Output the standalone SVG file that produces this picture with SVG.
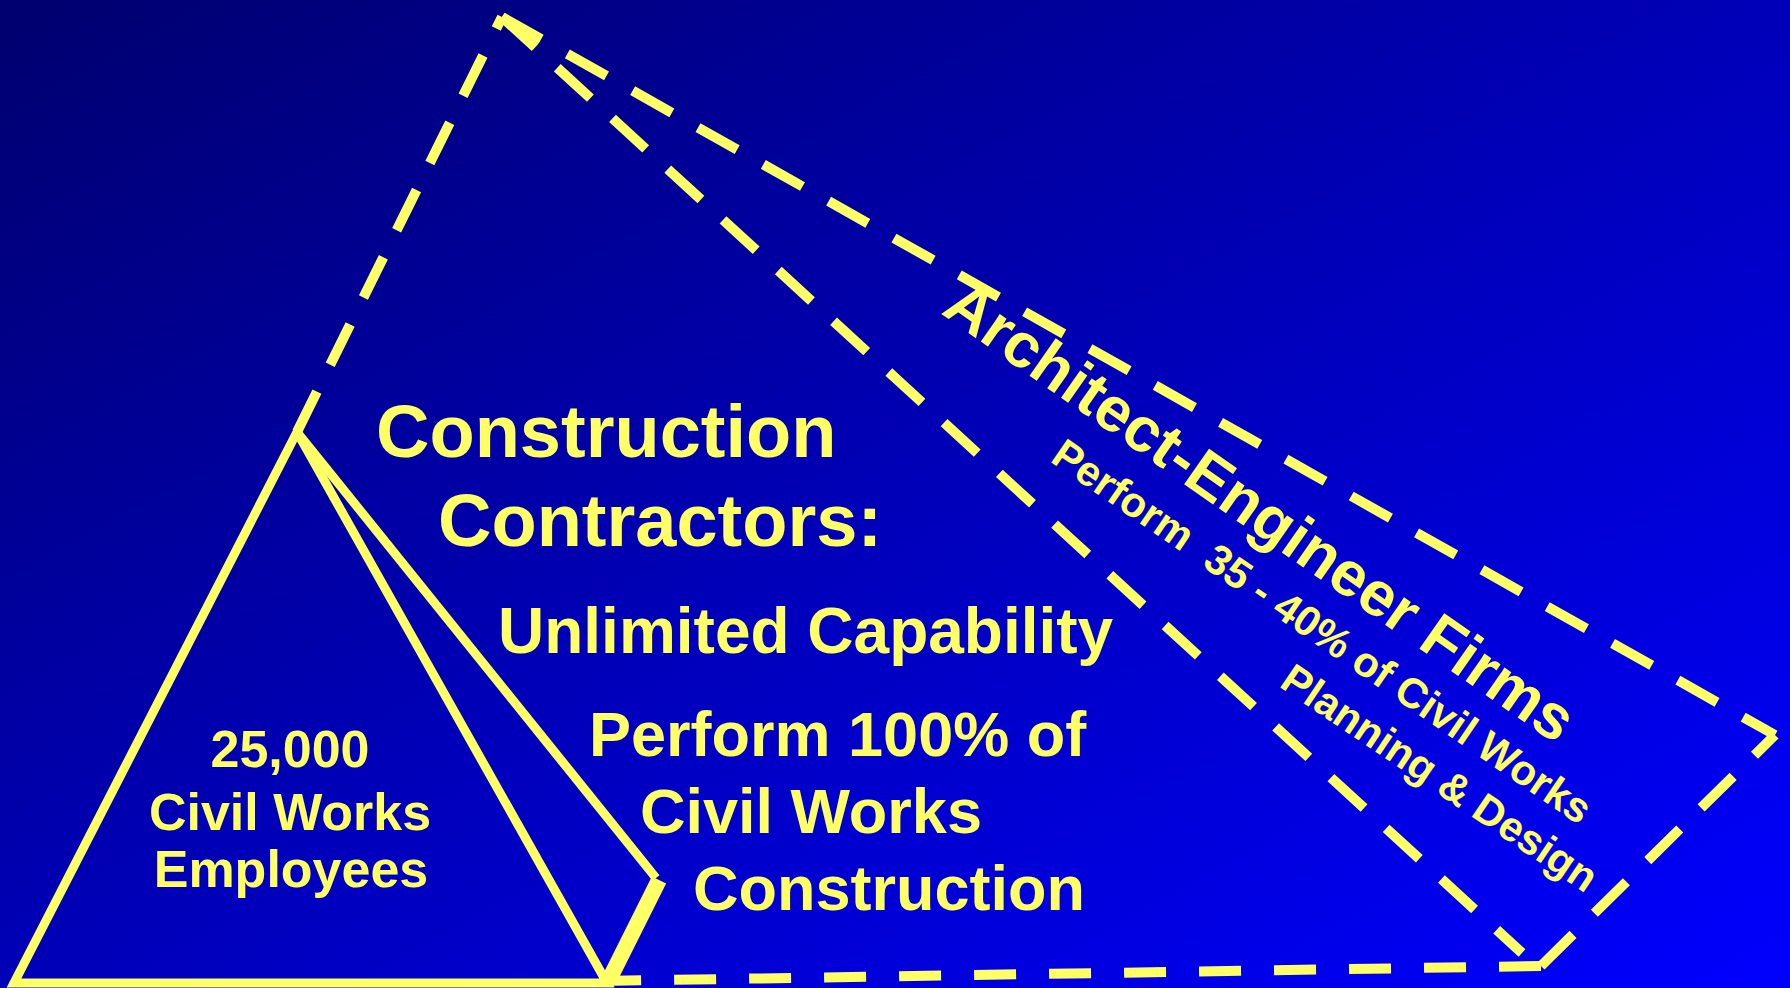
<svg xmlns="http://www.w3.org/2000/svg" width="1790" height="988" viewBox="0 0 1790 988">
<defs>
<linearGradient id="bg" x1="0" y1="0" x2="1" y2="1">
<stop offset="0" stop-color="#00006E"/>
<stop offset="0.5" stop-color="#0000B8"/>
<stop offset="1" stop-color="#0000FF"/>
</linearGradient>
</defs>
<style>
.t{font-family:"Liberation Sans",Arial,sans-serif;font-weight:bold;fill:#FFFF66}
.solid{fill:none;stroke:#FFFF66;stroke-width:9;stroke-linejoin:miter}
.dash{fill:none;stroke:#FFFF66;stroke-width:10;stroke-dasharray:45 30;stroke-linecap:butt}
</style>
<rect x="0" y="0" width="1790" height="988" fill="url(#bg)"/>
<g id="ae-firms">
<line class="dash" x1="297" y1="432" x2="502" y2="17"/>
<line class="dash" x1="502" y1="17" x2="1775" y2="735"/>
<line class="dash" x1="502" y1="17" x2="1522" y2="953"/>
<line class="dash" x1="1541" y1="966" x2="1775" y2="735"/>
<line class="dash" style="stroke-dasharray:42 33" x1="1541" y1="966" x2="600" y2="981"/>
<text class="t" font-size="63" transform="translate(940,313) rotate(35)">Architect-Engineer Firms</text>
<text class="t" font-size="42" xml:space="preserve" transform="translate(1049,461) rotate(34.5)">Perform  35 - 40% of Civil Works</text>
<text class="t" font-size="42" transform="translate(1278,686) rotate(34)">Planning &amp; Design</text>
</g>
<g id="contractors">
<polyline class="solid" points="297,432 656,878"/>
<line x1="659" y1="880" x2="609" y2="980" stroke="#FFFF66" stroke-width="16"/>
<text class="t" font-size="74" x="376" y="457">Construction</text>
<text class="t" font-size="74" x="438" y="546">Contractors:</text>
<text class="t" font-size="64" x="498" y="653">Unlimited Capability</text>
<text class="t" font-size="63" x="589" y="756">Perform 100% of</text>
<text class="t" font-size="63" x="640" y="833">Civil Works</text>
<text class="t" font-size="63" x="693" y="910">Construction</text>
</g>
<g id="employees">
<polygon class="solid" points="297,432 14,983 607,983"/>
<text class="t" font-size="52" text-anchor="middle" x="290" y="767">25,000</text>
<text class="t" font-size="52" text-anchor="middle" x="290" y="830">Civil Works</text>
<text class="t" font-size="52" text-anchor="middle" x="291" y="887">Employees</text>
</g>
</svg>
